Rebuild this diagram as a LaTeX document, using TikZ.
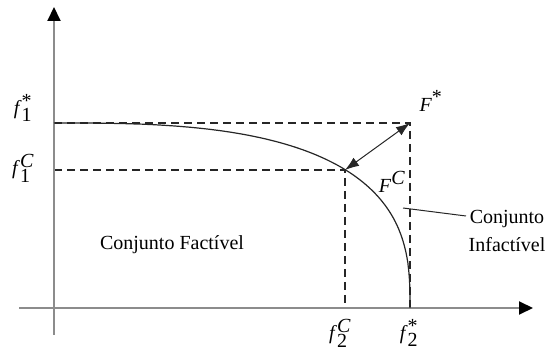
\documentclass[tikz,border=0pt]{standalone}
\usepackage{fontspec}
\setmainfont{Liberation Serif}
\usetikzlibrary{arrows.meta}
\begin{document}
\begin{tikzpicture}[x=1pt,y=-1pt,
  axis/.style={draw=black!45,line width=2pt,-{Triangle[length=14pt,width=13pt,color=black]}},
  dashline/.style={draw=black!85,line width=2pt,dash pattern=on 8pt off 5pt},
  curve/.style={draw=black!85,line width=1.2pt},
  lbl/.style={inner sep=0pt,font=\fontsize{20}{28}\selectfont,text=black},
  gap/.style={{Latex[length=14pt,width=10pt]}-{Latex[length=14pt,width=10pt]},draw=black!85,line width=1pt}]
\useasboundingbox (0,0) rectangle (547,352);
% key points
\coordinate (xs) at (19,308);
\coordinate (xe) at (533,308);
\coordinate (ys) at (54,335);
\coordinate (ye) at (54,7);
\coordinate (A) at (54,123);
\coordinate (Fs) at (410,123);
\coordinate (Fc) at (345,170);
\coordinate (B) at (54,170);
\coordinate (f2c) at (345,308);
\coordinate (f2s) at (410,308);
\coordinate (lead) at (403,208);
\coordinate (leadend) at (466,216);
% dashed guides
\draw[dashline] (A) -- (Fs) -- (f2s);
\draw[dashline] (B) -- (Fc) -- (f2c);
% axes
\draw[axis] (xs) -- (xe);
\draw[axis] (ys) -- (ye);
% Pareto curve (superellipse)
\draw[curve] (f2s) -- plot[domain=0.05:89.95,samples=120,smooth] ({54+356*cos(\x)^0.7018},{308-185*sin(\x)^0.7018}) -- (A);
% distance arrow
\draw[gap] (Fc) -- (Fs);
% labels
\node[lbl] (lf1s) at (23,108) {\textit{f}$_{\textrm{1}}^{\textrm{*}}$};
\node[lbl] (lf1c) at (23,168) {\textit{f}$_{\textrm{1}}^{\textit{C}}$};
\node[lbl] (lf2c) at (340,333) {\textit{f}$_{\textrm{2}}^{\textit{C}}$};
\node[lbl] (lf2s) at (409,333) {\textit{f}$_{\textrm{2}}^{\textrm{*}}$};
\node[lbl] (lFs) at (431,101) {\textit{F}$^{\textrm{*}}$};
\node[lbl] (lFc) at (392,182) {\textit{F}$^{\textit{C}}$};
\node[lbl] (fact) at (172,245) {Conjunto Factível};
\node[lbl,align=center] (infact) at (507,231) {Conjunto\\Infactível};
\draw[draw=black!85,line width=1pt] (lead) -- (leadend);
\end{tikzpicture}
\end{document}
